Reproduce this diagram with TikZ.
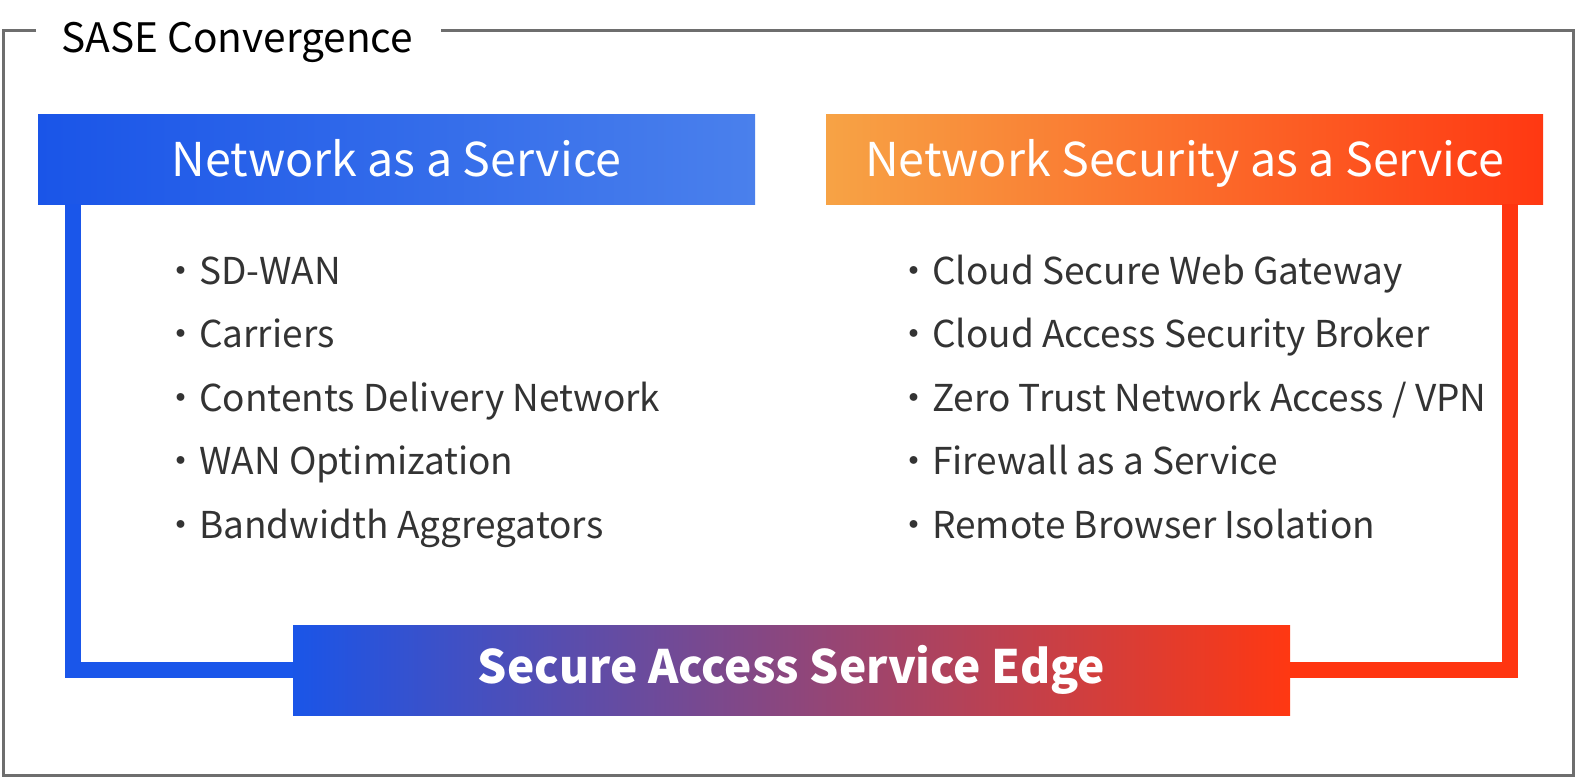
\documentclass[tikz,border=0pt]{standalone}
\usepackage{fontspec}
\setmainfont{Noto Sans CJK KR}
\usetikzlibrary{calc}
\definecolor{framegray}{HTML}{6E6E6E}
\definecolor{txtgray}{HTML}{333333}
\definecolor{blueA}{HTML}{1A55E8}
\definecolor{blueB}{HTML}{4A80EC}
\definecolor{orangeA}{HTML}{F7A345}
\definecolor{orangeB}{HTML}{FF3812}
\definecolor{lineblue}{HTML}{1A56EA}
\definecolor{linered}{HTML}{FF3510}
\tikzset{
  headbox/.style={minimum width=717pt, minimum height=90pt, inner sep=0pt, text height=34pt, text depth=0pt, text=white, font=\fontsize{46.6}{50}\selectfont},
  itemtxt/.style={anchor=base west, inner sep=0pt, text=txtgray, font=\fontsize{37}{40}\selectfont},
  conn/.style={line width=16pt}
}
\begin{document}
\begin{tikzpicture}[x=1pt,y=-1pt]
\useasboundingbox (0,0) rectangle (1576,779);
% outer frame with gap for title
\draw[framegray, line width=3pt] (36,30) -- (3,30) -- (3,775) -- (1573,775) -- (1573,30) -- (441,30);
\node[anchor=base west, inner sep=0pt, font=\fontsize{40.6}{44}\selectfont] (title) at (61,52) {SASE Convergence};
% headers
\node[headbox, left color=blueA, right color=blueB] (naas) at (396.5,159) {Network as a Service};
\node[headbox, left color=orangeA, right color=orangeB] (nsaas) at (1184.5,159) {Network Security as a Service};
% SASE box
\node[minimum width=997pt, minimum height=90pt, inner sep=0pt, left color=blueA, right color=orangeB, text=white, font=\fontsize{46}{50}\selectfont\bfseries] (sase) at (791.5,670) {Secure Access Service Edge};
% connectors
\draw[conn, lineblue] ([xshift=35pt]naas.south west) |- (sase.west);
\draw[conn, linered] ([xshift=-33pt]nsaas.south east) |- (sase.east);
% left list
\node[itemtxt] (l1) at (162,284) {・SD-WAN};
\node[itemtxt] (l2) at (162,347.5) {・Carriers};
\node[itemtxt] (l3) at (162,411) {・Contents Delivery Network};
\node[itemtxt] (l4) at (162,474.5) {・WAN Optimization};
\node[itemtxt] (l5) at (162,538) {・Bandwidth Aggregators};
% right list
\node[itemtxt] (r1) at (895,284) {・Cloud Secure Web Gateway};
\node[itemtxt] (r2) at (895,347.5) {・Cloud Access Security Broker};
\node[itemtxt] (r3) at (895,411) {・Zero Trust Network Access / VPN};
\node[itemtxt] (r4) at (895,474.5) {・Firewall as a Service};
\node[itemtxt] (r5) at (895,538) {・Remote Browser Isolation};
\end{tikzpicture}
\end{document}
